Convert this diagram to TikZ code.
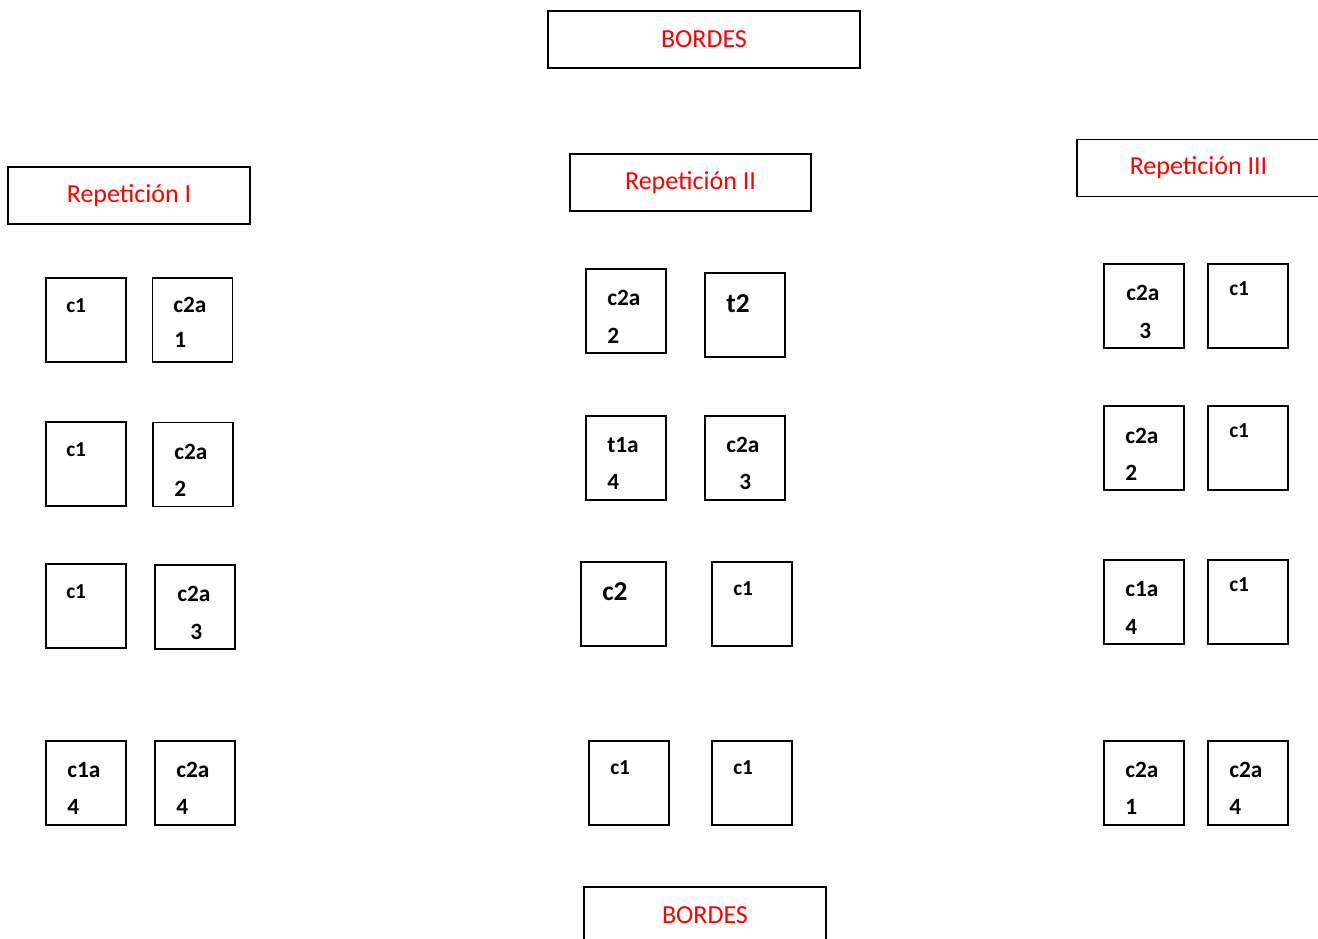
\documentclass[tikz,border=0pt]{standalone}
\usepackage{fontspec}
\setmainfont{Carlito}
\begin{document}
\begin{tikzpicture}[x=0.75pt,y=-0.75pt,
  cell/.style={draw,line width=1.3pt,minimum width=60pt,minimum height=63pt,inner sep=0pt},
  title/.style={draw,line width=1.3pt,minimum height=42.75pt,inner sep=0pt,text=red,font=\fontsize{19.5}{22}\selectfont},
  sm/.style={anchor=base west,inner sep=0pt,font=\bfseries\fontsize{16}{18}\selectfont},
  bg/.style={anchor=base west,inner sep=0pt,font=\bfseries\fontsize{17.5}{19}\selectfont},
  bgr/.style={anchor=base west,inner sep=0pt,font=\bfseries\fontsize{20.5}{22}\selectfont}]
\useasboundingbox (0,0) rectangle (1318,939);
\clip (0,0) rectangle (1318,939);
% titles
\node[title,minimum width=234pt] (b1) at (704,39.5) {BORDES};
\node[title,minimum width=181.5pt] (r1) at (129,195.5) {Repetición I};
\node[title,minimum width=180.75pt] (r2) at (690.5,182.5) {Repetición II};
\node[title,minimum width=182.25pt] (r3) at (1198.5,168) {Repetición III};
\node[title,minimum width=181.5pt] (b2) at (705,915.5) {BORDES};
% left column
\node[cell] (a1) at (86,320) {};
\node[sm] (ta1) at (66,312) {c1};
\node[cell] (a2) at (192.5,320) {};
\node[bg] (ta2) at (173,312) {c2a};
\node[bg] (ua2) at (174,347) {1};
\node[cell] (a3) at (86,464) {};
\node[sm] (ta3) at (66,456) {c1};
\node[cell] (a4) at (193,464.5) {};
\node[bg] (ta4) at (174,459) {c2a};
\node[bg] (ua4) at (174,496) {2};
\node[cell] (a5) at (86,606) {};
\node[sm] (ta5) at (66,598) {c1};
\node[cell] (a6) at (195,607) {};
\node[bg] (ta6) at (177,601) {c2a};
\node[bg] (ua6) at (190,639) {3};
\node[cell] (a7) at (86,783) {};
\node[bg] (ta7) at (67,777) {c1a};
\node[bg] (ua7) at (67,814) {4};
\node[cell] (a8) at (195,783) {};
\node[bg] (ta8) at (176,777) {c2a};
\node[bg] (ua8) at (176,814) {4};
% middle column
\node[cell] (m1) at (626,311) {};
\node[bg] (tm1) at (607,305) {c2a};
\node[bg] (um1) at (607,343) {2};
\node[cell] (m2) at (745,315) {};
\node[bgr] (tm2) at (726,312) {t2};
\node[cell] (m3) at (626,458) {};
\node[bg] (tm3) at (607,452) {t1a};
\node[bg] (um3) at (607,489) {4};
\node[cell] (m4) at (745,458) {};
\node[bg] (tm4) at (726,452) {c2a};
\node[bg] (um4) at (739,489) {3};
\node[cell,minimum width=63.75pt] (m5) at (623.5,604) {};
\node[bgr] (tm5) at (602,600) {c2};
\node[cell] (m6) at (752,604) {};
\node[sm] (tm6) at (733,595) {c1};
\node[cell] (m7) at (629,783) {};
\node[sm] (tm7) at (610,774) {c1};
\node[cell] (m8) at (752,783) {};
\node[sm] (tm8) at (733,774) {c1};
% right column
\node[cell] (c1) at (1144,306) {};
\node[bg] (tc1) at (1126,300) {c2a};
\node[bg] (uc1) at (1139,338) {3};
\node[cell] (c2) at (1248,306) {};
\node[sm] (tc2) at (1229,295) {c1};
\node[cell] (c3) at (1144,448) {};
\node[bg] (tc3) at (1125,443) {c2a};
\node[bg] (uc3) at (1125,480) {2};
\node[cell] (c4) at (1248,448) {};
\node[sm] (tc4) at (1229,437) {c1};
\node[cell] (c5) at (1144,602) {};
\node[bg] (tc5) at (1125,596) {c1a};
\node[bg] (uc5) at (1125,634) {4};
\node[cell] (c6) at (1248,602) {};
\node[sm] (tc6) at (1229,591) {c1};
\node[cell] (c7) at (1144,783) {};
\node[bg] (tc7) at (1125,777) {c2a};
\node[bg] (uc7) at (1125,814) {1};
\node[cell] (c8) at (1248,783) {};
\node[bg] (tc8) at (1229,777) {c2a};
\node[bg] (uc8) at (1229,814) {4};
\end{tikzpicture}
\end{document}
